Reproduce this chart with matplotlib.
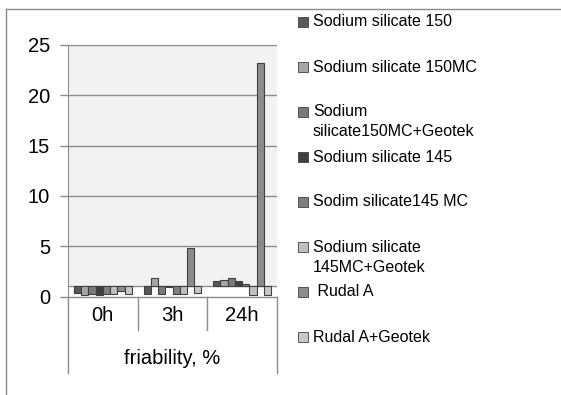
import matplotlib
matplotlib.use("Agg")
import matplotlib.pyplot as plt
from matplotlib.lines import Line2D
from matplotlib.patches import Rectangle

plt.rcParams['font.family'] = ['Liberation Sans', 'DejaVu Sans']

# friability, % at each time point
times = ['0h', '3h', '24h']
series = [
    'Sodium silicate 150',
    'Sodium silicate 150MC',
    'Sodium\nsilicate150MC+Geotek',
    'Sodium silicate 145',
    'Sodim silicate145 MC',
    'Sodium silicate\n145MC+Geotek',
    ' Rudal A',
    'Rudal A+Geotek',
]
ss150 = [0.3, 0.2, 1.5]
ss150mc = [0.15, 1.85, 1.65]
ss150mc_geotek = [0.2, 0.2, 1.8]
ss145 = [0.15, 0.9, 1.5]
ss145mc = [0.25, 0.2, 1.2]
ss145mc_geotek = [0.25, 0.2, 0.1]
rudal_a = [0.55, 4.8, 23.2]
rudal_a_geotek = [0.2, 0.3, 0.15]
values = [ss150, ss150mc, ss150mc_geotek, ss145, ss145mc, ss145mc_geotek,
          rudal_a, rudal_a_geotek]
colors = ['#595959', '#a6a6a6', '#7a7a7a', '#404040', '#7f7f7f', '#c0c0c0',
          '#8c8c8c', '#c8c8c8']
base = 1  # horizontal axis crosses at 1
yticks = [0, 5, 10, 15, 20, 25]

W, H = 561, 395
fig = plt.figure(figsize=(W / 100, H / 100), dpi=100)
ax = fig.add_axes([68 / W, 1 - 296.5 / H, 209 / W, 251.5 / H])

gray = '#8c8c8c'
ax.axhspan(base, 25, color='#f2f2f2', zorder=0, lw=0)
for t in yticks[1:]:
    ax.axhline(t, color=gray, lw=1, zorder=1)
ax.axhline(0, color=gray, lw=1, zorder=1, clip_on=False)
ax.axhline(base, color=gray, lw=1, zorder=1)

bw = 0.104
n = len(series)
for i, (vals, c) in enumerate(zip(values, colors)):
    xs = [g + (i - (n - 1) / 2) * bw for g in range(len(times))]
    ax.bar(xs, [v - base for v in vals], bottom=base, width=bw, color=c,
           edgecolor='#404040', linewidth=0.8, zorder=3)

ax.set_xlim(-0.5, len(times) - 0.5)
ax.set_ylim(0, 25)
ax.set_yticks(yticks)
ax.tick_params(axis='y', length=6, width=1, color=gray, pad=7, labelsize=14.5)
ax.set_xticks([])
for s in ['top', 'right', 'bottom']:
    ax.spines[s].set_visible(False)
ax.spines['left'].set_color(gray)
ax.patch.set_alpha(0)

# two-level category labels below the axis
tr = ax.get_xaxis_transform()
for g, lab in enumerate(times):
    ax.text(g, -0.074, lab, transform=tr, ha='center', va='center', fontsize=14.5)
for xb in [0.5, 1.5]:
    ax.add_line(Line2D([xb, xb], [0, -0.133], transform=tr, color=gray, lw=1,
                       clip_on=False))
for xb in [-0.5, len(times) - 0.5]:
    ax.add_line(Line2D([xb, xb], [0, -0.304], transform=tr, color=gray, lw=1,
                       clip_on=False))
ax.text(1, -0.245, 'friability, %', transform=tr, ha='center', va='center',
        fontsize=14.5)

# legend entries, 45 px apart
for i, (lab, c) in enumerate(zip(series, colors)):
    y0 = 22 + 45 * i
    fig.patches.append(Rectangle((297.5 / W, 1 - (y0 + 5.3) / H), 10.5 / W, 10.5 / H,
                                 transform=fig.transFigure, facecolor=c,
                                 edgecolor='#404040', lw=0.6))
    for k, line in enumerate(lab.split('\n')):
        fig.text(313 / W, 1 - (y0 + 20 * k) / H, line, ha='left', va='center',
                 fontsize=11.5)

# chart frame
fig.add_artist(Line2D([6 / W, 1], [1 - 8.5 / H] * 2, transform=fig.transFigure,
                      color=gray, lw=1))
fig.add_artist(Line2D([6 / W] * 2, [0, 1 - 8.5 / H], transform=fig.transFigure,
                      color=gray, lw=1))

fig.savefig('out.png', dpi=100, facecolor='white')
